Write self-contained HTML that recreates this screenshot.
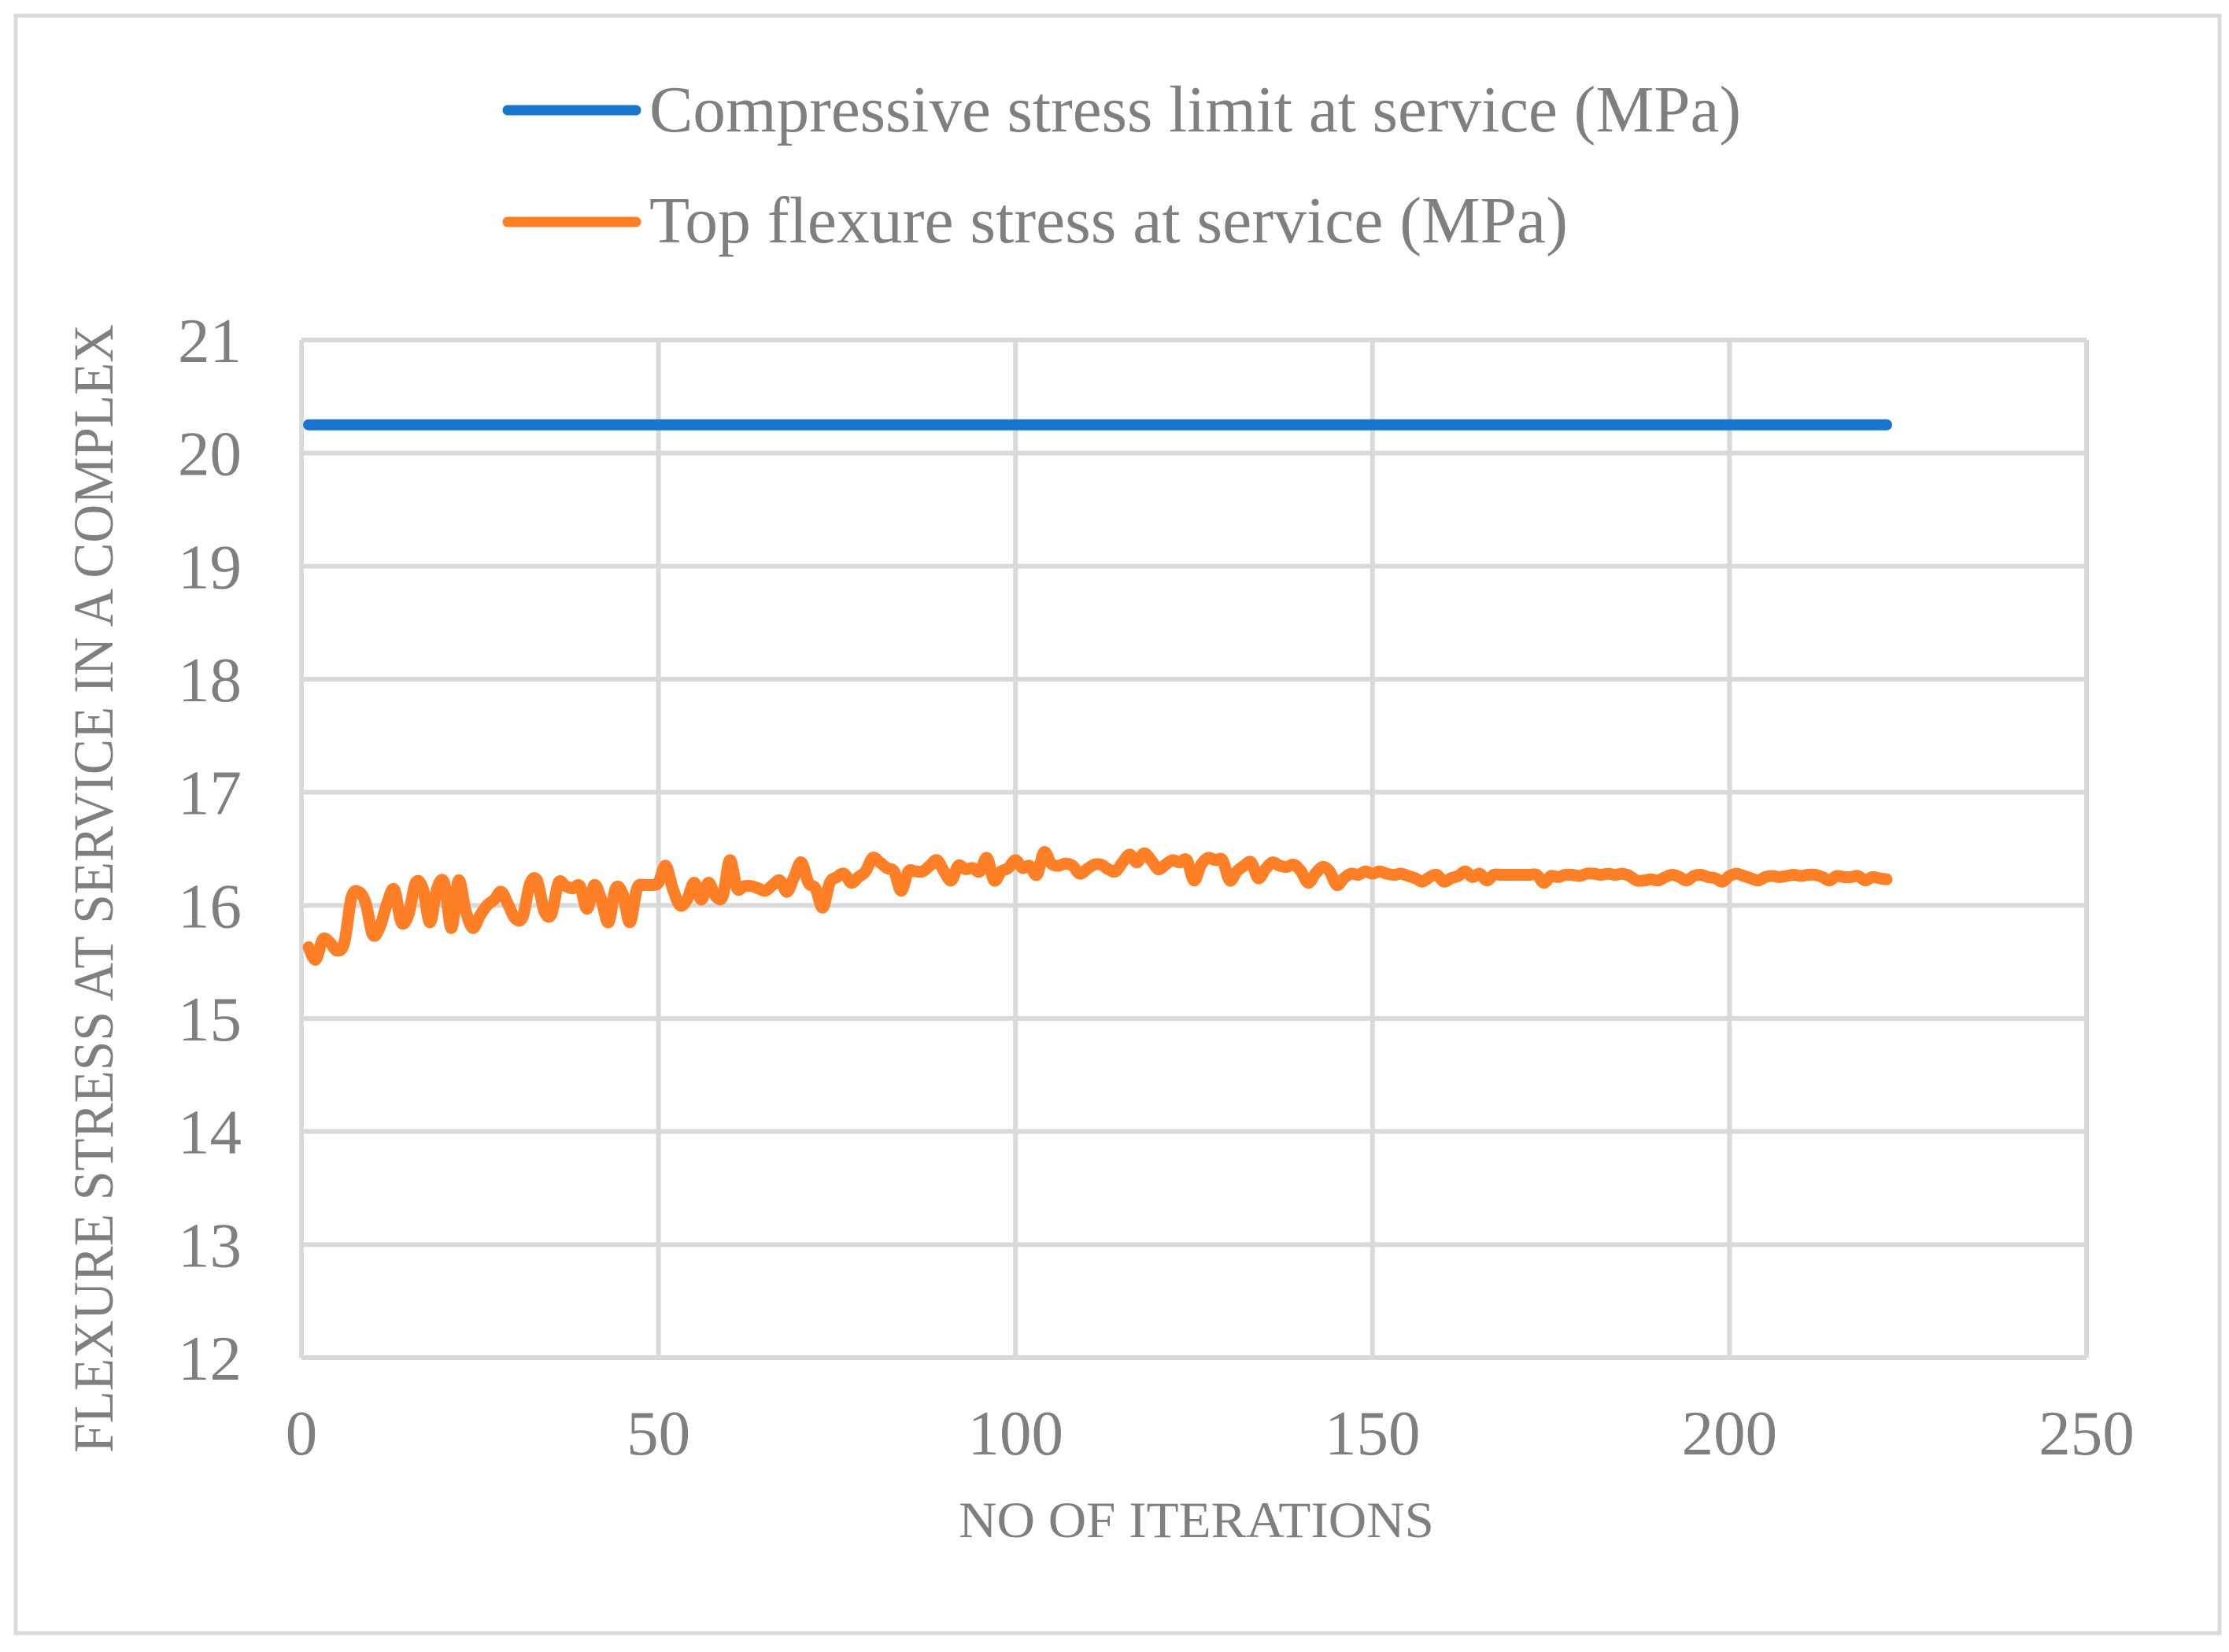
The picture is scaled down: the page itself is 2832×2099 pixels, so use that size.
<!DOCTYPE html>
<html><head><meta charset="utf-8"><style>
html,body{margin:0;padding:0;background:#fff;}
svg{display:block;font-family:"Liberation Serif",serif;}
</style></head><body>
<svg id="chart" width="2832" height="2099" viewBox="0 0 2832 2099" xmlns="http://www.w3.org/2000/svg">
<rect x="20" y="20" width="2800" height="2055" fill="#fff" stroke="#d9d9d9" stroke-width="5"/>
<g id="grid"></g>
<g id="yticks"></g>
<g id="xticks"></g>
<g id="series"></g>
<text x="143" y="1129" transform="rotate(-90 143 1129)" text-anchor="middle" font-size="72" fill="#7f7f7f" textLength="1434" lengthAdjust="spacingAndGlyphs">FLEXURE STRESS AT SERVICE IN A COMPLEX</text>
<text x="1520" y="1953" text-anchor="middle" font-size="65" fill="#7f7f7f" textLength="604" lengthAdjust="spacingAndGlyphs">NO OF ITERATIONS</text>
<g>
<g>
<line x1="645" y1="140" x2="808" y2="140" stroke="#1874cd" stroke-width="13" stroke-linecap="round"/>
<text x="825" y="167" font-size="84" fill="#7f7f7f" textLength="1387" lengthAdjust="spacingAndGlyphs">Compressive stress limit at service (MPa)</text>
</g>
<g>
<line x1="645" y1="282" x2="808" y2="282" stroke="#ff7f27" stroke-width="13" stroke-linecap="round"/>
<text x="825" y="308" font-size="84" fill="#7f7f7f" textLength="1167" lengthAdjust="spacingAndGlyphs">Top flexure stress at service (MPa)</text>
</g>
</g>
</svg>
<script>
const xTicks = [0, 50, 100, 150, 200, 250];
const yTicks = [12, 13, 14, 15, 16, 17, 18, 19, 20, 21];
const limitValue = 20.25;
const limitRange = [1, 222];
const flexure = [
15.63,15.52,15.70,15.67,15.60,15.67,16.07,16.12,16.02,15.74,
15.81,16.02,16.14,15.85,15.92,16.20,16.15,15.85,16.15,16.20,
15.80,16.22,15.95,15.80,15.91,16.00,16.05,16.12,16.00,15.88,
15.90,16.19,16.22,15.95,15.92,16.20,16.17,16.15,16.17,15.97,
16.18,16.05,15.85,16.15,16.10,15.85,16.15,16.18,16.18,16.20,
16.35,16.15,16.00,16.05,16.20,16.05,16.20,16.08,16.08,16.40,
16.15,16.17,16.17,16.15,16.13,16.18,16.22,16.12,16.25,16.38,
16.20,16.15,15.98,16.20,16.25,16.28,16.20,16.25,16.30,16.42,
16.38,16.33,16.30,16.13,16.30,16.30,16.30,16.35,16.40,16.30,
16.22,16.35,16.32,16.33,16.30,16.42,16.22,16.30,16.33,16.40,
16.33,16.35,16.27,16.47,16.37,16.35,16.37,16.35,16.28,16.32,
16.36,16.36,16.32,16.30,16.38,16.45,16.38,16.46,16.40,16.32,
16.36,16.40,16.38,16.40,16.22,16.36,16.42,16.40,16.40,16.22,
16.30,16.35,16.38,16.24,16.32,16.38,16.35,16.34,16.36,16.30,
16.20,16.28,16.34,16.30,16.18,16.24,16.28,16.27,16.30,16.28,
16.30,16.28,16.27,16.28,16.26,16.24,16.21,16.25,16.27,16.21,
16.24,16.26,16.30,16.25,16.28,16.22,16.27,16.27,16.27,16.27,
16.27,16.27,16.27,16.20,16.26,16.25,16.27,16.27,16.26,16.28,
16.28,16.27,16.28,16.27,16.28,16.26,16.22,16.22,16.23,16.22,
16.25,16.27,16.25,16.22,16.26,16.27,16.25,16.24,16.21,16.26,
16.28,16.26,16.24,16.22,16.25,16.26,16.25,16.26,16.27,16.26,
16.27,16.27,16.25,16.22,16.26,16.25,16.25,16.26,16.22,16.25,16.24,16.23
];
const NS = "http://www.w3.org/2000/svg";
const PL = 383, PR = 2651, PT = 432, PB = 1725;
const xMin = 0, xMax = 250, yMin = 12, yMax = 21;
function sx(v){ return PL + (v - xMin) / (xMax - xMin) * (PR - PL); }
function sy(v){ return PB - (v - yMin) / (yMax - yMin) * (PB - PT); }
function mk(tag, attrs, parent){
  const e = document.createElementNS(NS, tag);
  for (const k in attrs) e.setAttribute(k, attrs[k]);
  parent.appendChild(e);
  return e;
}
const grid = document.getElementById('grid');
const yg = document.getElementById('yticks');
const xg = document.getElementById('xticks');
const series = document.getElementById('series');
yTicks.forEach(t => {
  const l = mk('line', {x1: PL, x2: PR, y1: sy(t), y2: sy(t), stroke: '#d9d9d9', 'stroke-width': 6}, grid);
  
  
  const tx = mk('text', {x: 307, y: sy(t) + 28, 'text-anchor': 'end', 'font-size': 81, fill: '#7f7f7f'}, yg);
  tx.textContent = t;
  
  
});
xTicks.forEach(t => {
  const l = mk('line', {x1: sx(t), x2: sx(t), y1: PT, y2: PB, stroke: '#d9d9d9', 'stroke-width': 6}, grid);
  
  
  const tx = mk('text', {x: sx(t), y: 1848, 'text-anchor': 'middle', 'font-size': 81, fill: '#7f7f7f'}, xg);
  tx.textContent = t;
  
  
});
const lim = mk('line', {x1: sx(limitRange[0]), x2: sx(limitRange[1]), y1: sy(limitValue), y2: sy(limitValue), stroke: '#1874cd', 'stroke-width': 14, 'stroke-linecap': 'round'}, series);


const pts = flexure.map((v, i) => [sx(i + 1), sy(v)]);
let d = 'M' + pts[0][0].toFixed(1) + ' ' + pts[0][1].toFixed(1);
for (let i = 0; i < pts.length - 1; i++) {
  const p0 = pts[Math.max(0, i - 1)], p1 = pts[i], p2 = pts[i + 1], p3 = pts[Math.min(pts.length - 1, i + 2)];
  const c1x = p1[0] + (p2[0] - p0[0]) / 6, c1y = p1[1] + (p2[1] - p0[1]) / 6;
  const c2x = p2[0] - (p3[0] - p1[0]) / 6, c2y = p2[1] - (p3[1] - p1[1]) / 6;
  d += ' C' + c1x.toFixed(1) + ' ' + c1y.toFixed(1) + ' ' + c2x.toFixed(1) + ' ' + c2y.toFixed(1) + ' ' + p2[0].toFixed(1) + ' ' + p2[1].toFixed(1);
}
const fl = mk('path', {d: d, fill: 'none', stroke: '#ff7f27', 'stroke-width': 15, 'stroke-linecap': 'round', 'stroke-linejoin': 'round'}, series);


</script>
</body></html>
